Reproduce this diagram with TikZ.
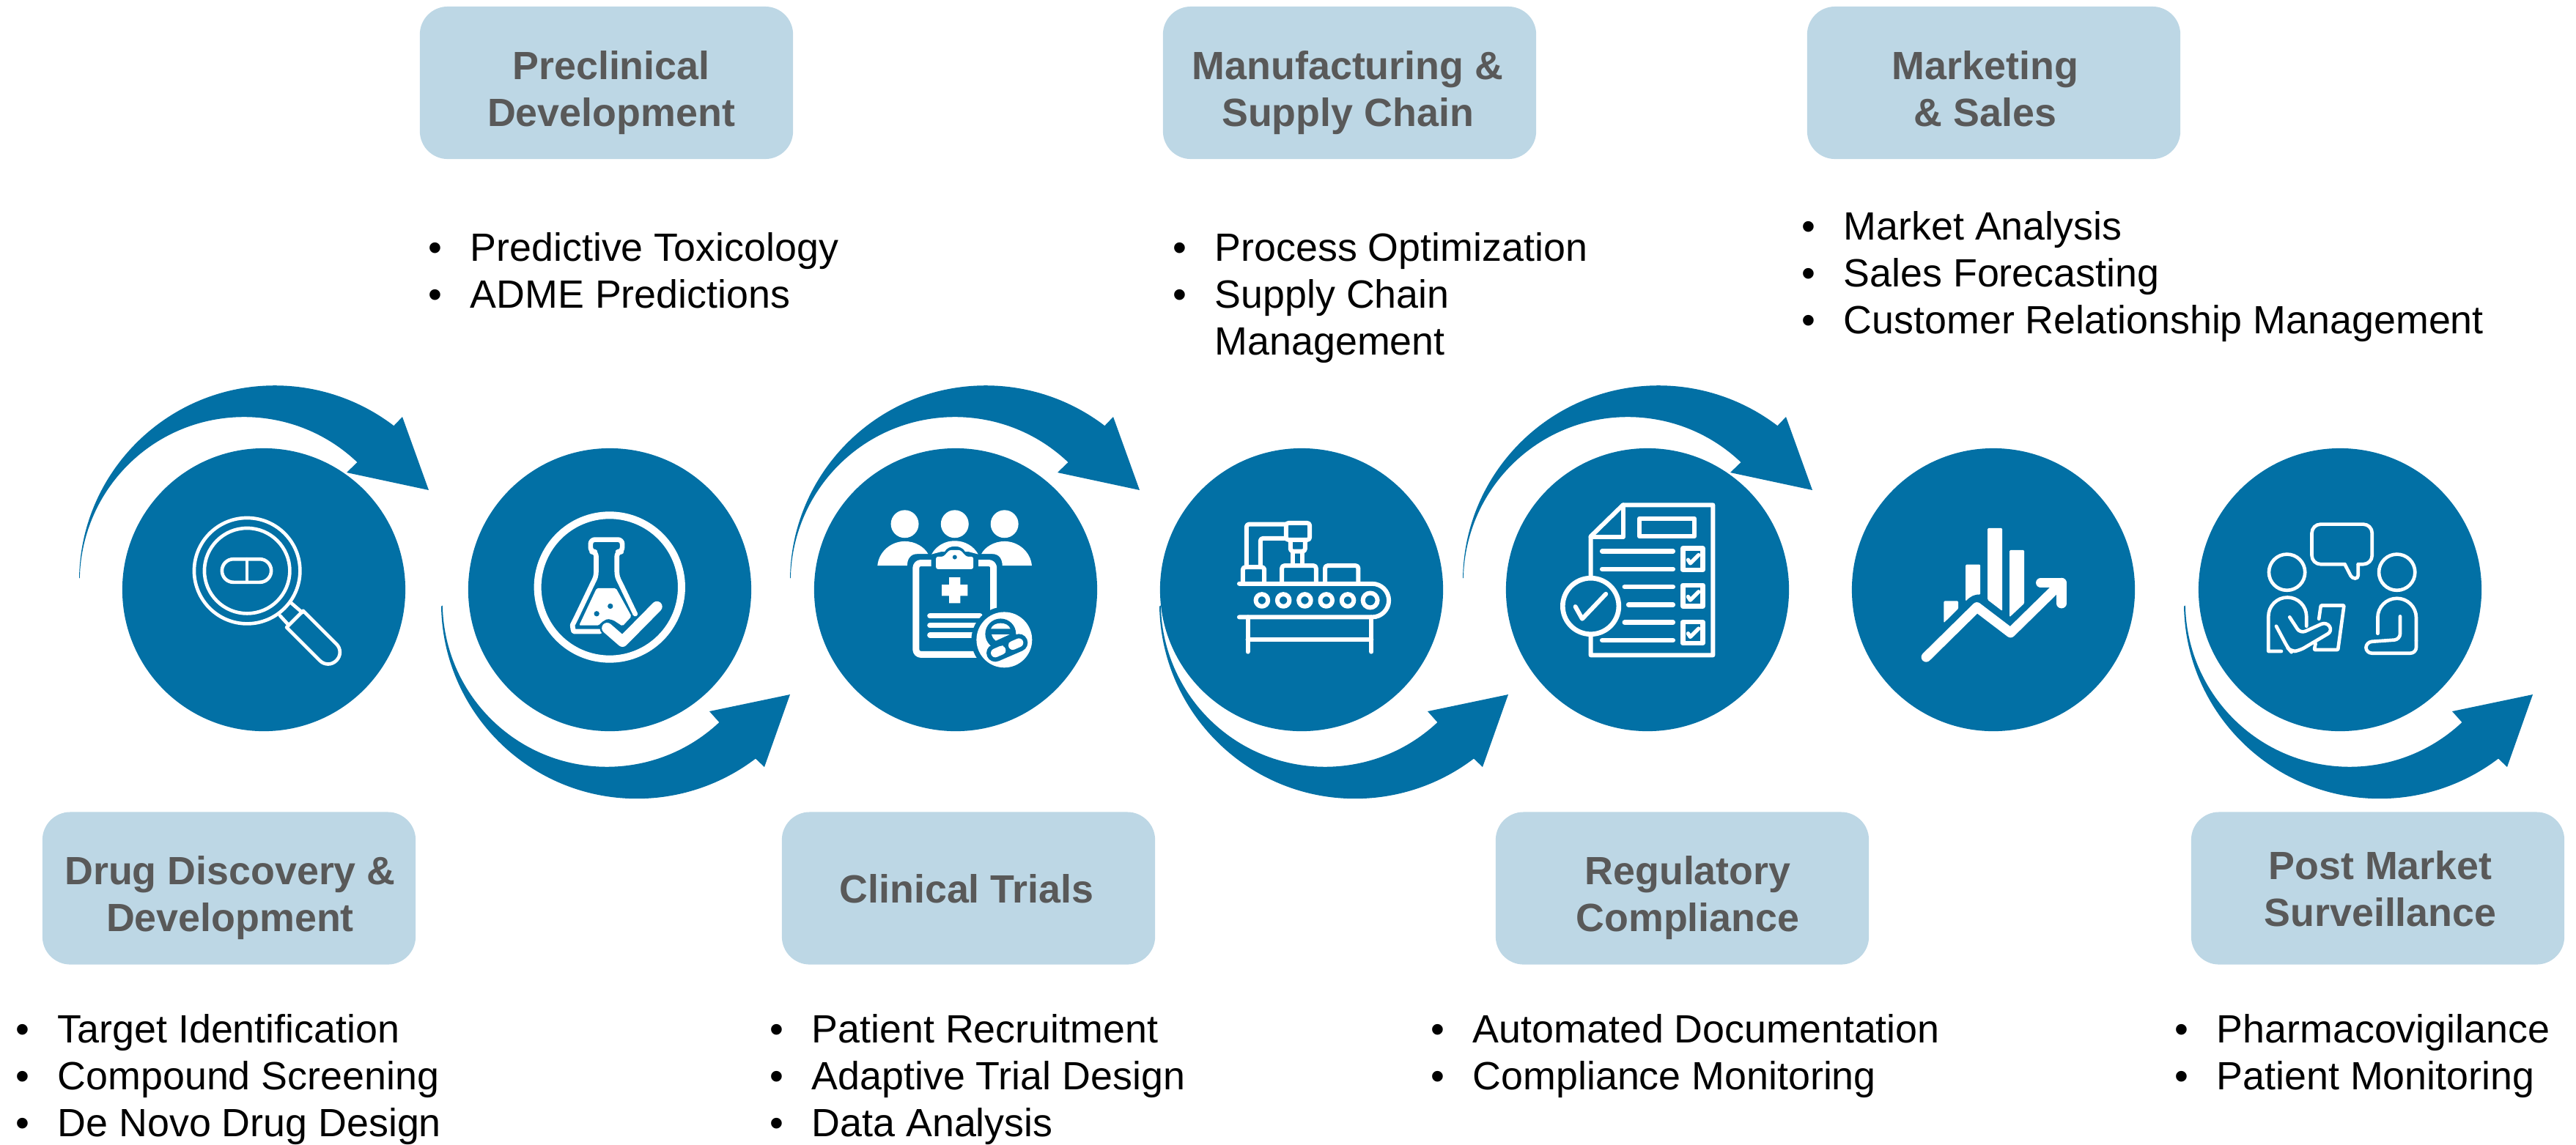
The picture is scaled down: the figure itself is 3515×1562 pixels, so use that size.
\documentclass[tikz,border=0pt]{standalone}
\usepackage{fontspec}
\setmainfont{Liberation Sans}
\usetikzlibrary{calc}
\definecolor{stageblue}{HTML}{0270A5}
\definecolor{boxblue}{HTML}{BDD7E5}
\definecolor{headgray}{HTML}{595959}
% one icon unit is a third of a reference pixel
\def\zu{0.003333cm}
\newcommand{\upsweep}[1]{\fill[sweep,shift={(#1,0)}] (108,788.7) arc[start angle=179,end angle=52.6,radius=2.67cm] -- (549,569) -- (585,669) -- (473,645) -- (487.5,631) arc[start angle=46.4,end angle=179,radius=2.24cm] -- cycle;}
\newcommand{\downsweep}[1]{\fill[sweep,shift={(#1,0)}] (602,827.7) arc[start angle=181,end angle=307.3,radius=2.67cm] -- (1043,1047) -- (1078,948) -- (968,971) -- (981.4,986) arc[start angle=313.2,end angle=181,radius=2.24cm] -- cycle;}
\newcommand{\stageitem}[4]{\node[itemtext] (#1) at (#2,#3) {#4};
    \node[itemtext,anchor=base east] (#1mark) at ($(#1.base west)+(-37,0)$) {•};}
\begin{document}
\begin{tikzpicture}[x=0.01cm,y=-0.01cm,
    sweep/.style={fill=stageblue},
    stage/.style={circle,fill=stageblue,minimum size=3.86cm,inner sep=0},
    headbox/.style={rectangle,fill=boxblue,rounded corners=0.38cm,minimum width=5.09cm,minimum height=2.08cm},
    headtext/.style={inner sep=0,align=center,text=headgray,font=\fontsize{15.3}{18.2}\selectfont\bfseries},
    itemtext/.style={anchor=base west,inner sep=0,text=black,font=\fontsize{15.3}{18.2}\selectfont},
    icon/.style={x=\zu,y=-\zu},
    iconline/.style={draw=white,line width=14*\zu,line cap=round,line join=round},
    iconfill/.style={fill=white},
    iconcut/.style={fill=stageblue}
    ]
    \useasboundingbox (0,0) rectangle (3515,1562);

    % sweeping arrows
    \upsweep{0}
    \upsweep{970}
    \upsweep{1888}
    \downsweep{0}
    \downsweep{980}
    \downsweep{2378}

    % stage circles
    \node[stage] (discovery) at (360,805) {};
    \node[stage] (preclinical) at (832,805) {};
    \node[stage] (trials) at (1304,805) {};
    \node[stage] (supply) at (1776,805) {};
    \node[stage] (regulatory) at (2248,805) {};
    \node[stage] (marketing) at (2720,805) {};
    \node[stage] (surveillance) at (3193,805) {};

    % heading boxes
    \node[headbox] (preclinicalbox) at (827.5,113) {};
    \node[headbox] (supplybox) at (1841.5,113) {};
    \node[headbox] (marketingbox) at (2720.5,113) {};
    \node[headbox] (discoverybox) at (312.5,1212.5) {};
    \node[headbox] (trialsbox) at (1321.5,1212.5) {};
    \node[headbox] (regulatorybox) at (2295.5,1212.5) {};
    \node[headbox] (surveillancebox) at (3244.5,1212.5) {};
    \node[headtext] (preclinicaltext) at (834,128) {\strut Preclinical\\\strut Development};
    \node[headtext] (supplytext) at (1839,128) {\strut Manufacturing \&\\\strut Supply Chain};
    \node[headtext] (marketingtext) at (2709,128) {\strut Marketing\\\strut \& Sales};
    \node[headtext] (discoverytext) at (314,1226.5) {\strut Drug Discovery \&\\\strut Development};
    \node[headtext] (trialstext) at (1319,1219.5) {\strut Clinical Trials};
    \node[headtext] (regulatorytext) at (2303,1226.5) {\strut Regulatory\\\strut Compliance};
    \node[headtext] (surveillancetext) at (3248,1219.5) {\strut Post Market\\\strut Surveillance};

    % bullet lists
    \stageitem{toxicology}{641}{356}{Predictive Toxicology}
    \stageitem{adme}{641}{420}{ADME Predictions}
    \stageitem{process}{1657}{356}{Process Optimization}
    \stageitem{chain}{1657}{420}{Supply Chain}
    \node[itemtext] (chainb) at (1657,484) {Management};
    \stageitem{analysis}{2515}{327}{Market Analysis}
    \stageitem{forecast}{2515}{391}{Sales Forecasting}
    \stageitem{customer}{2515}{455}{Customer Relationship Management}
    \stageitem{target}{78}{1423}{Target Identification}
    \stageitem{screening}{78}{1487}{Compound Screening}
    \stageitem{denovo}{78}{1551}{De Novo Drug Design}
    \stageitem{recruit}{1107}{1423}{Patient Recruitment}
    \stageitem{adaptive}{1107}{1487}{Adaptive Trial Design}
    \stageitem{data}{1107}{1551}{Data Analysis}
    \stageitem{automated}{2009}{1423}{Automated Documentation}
    \stageitem{compliance}{2009}{1487}{Compliance Monitoring}
    \stageitem{vigilance}{3024}{1423}{Pharmacovigilance}
    \stageitem{monitoring}{3024}{1487}{Patient Monitoring}

    % magnifier icon
    \begin{scope}[shift={(230,675)},icon]
        \draw[iconline] (322,313) circle[radius=217*\zu];
        \draw[iconline] (322,313) circle[radius=175*\zu];
        \draw[iconline,rounded corners=47*\zu] (219,265) rectangle (421,360);
        \draw[iconline] (321,265) -- (321,360);
        \draw[iconline] (503,445) -- (548,484) (457,497) -- (490,533);
        \draw[iconline] (484,545) -- (552,477) [rounded corners=47*\zu] -- (722,647) -- (654,715) [sharp corners] -- cycle;
    \end{scope}

    % flask icon
    \begin{scope}[shift={(702,675)},icon]
        \draw[iconline,line width=30*\zu] (390,380) circle[radius=295*\zu];
        \draw[iconline,line width=20*\zu,rounded corners=18*\zu] (350,562) -- (262,562) .. controls (240,562) and (238,535) .. (246,520) -- (320,365) .. controls (335,335) and (335,320) .. (335,290) -- (335,235) -- (312,235) -- (312,185) -- (442,185) -- (442,235) -- (420,235) -- (420,290) .. controls (420,320) and (420,335) .. (435,365) -- (495,490);
        \fill[iconfill,rounded corners=6*\zu] (337,384) -- (416,384) -- (480,500) -- (443,540) -- (405,515) -- (380,510) -- (355,525) -- (347,537) -- (265,537) -- cycle;
        \fill[iconcut] (337,489) circle[radius=11*\zu] (393,458) circle[radius=11*\zu];
        \draw[draw=stageblue,line width=60*\zu,line cap=round,line join=round] (380,548) -- (443,603) -- (584,460);
        \draw[iconline,line width=44*\zu] (380,548) -- (443,603) -- (584,460);
    \end{scope}

    % clipboard icon
    \begin{scope}[shift={(1174,675)},icon]
        \fill[iconfill] (182,121) circle[radius=57*\zu] (387,121) circle[radius=57*\zu] (591,121) circle[radius=57*\zu];
        \fill[iconfill] (70,292) .. controls (75,235) and (125,192) .. (182,192) .. controls (225,192) and (262,215) .. (278,244) -- (232,244) .. controls (205,244) and (192,265) .. (192,292) -- cycle;
        \fill[iconfill] (703,292) .. controls (698,235) and (648,192) .. (591,192) .. controls (548,192) and (511,215) .. (496,244) -- (542,244) .. controls (569,244) and (582,265) .. (582,292) -- cycle;
        \fill[iconfill] (292,245) .. controls (310,212) and (345,190) .. (387,190) .. controls (429,190) and (465,212) .. (483,245) -- (445,235) -- (430,235) .. controls (415,205) and (360,205) .. (345,235) -- (330,235) -- cycle;
        \draw[iconline,line width=27*\zu,line cap=butt,rounded corners=20*\zu] (290,281) -- (228,281) -- (228,656) -- (480,656);
        \draw[iconline,line width=27*\zu,line cap=butt,rounded corners=20*\zu] (484,281) -- (546,281) -- (546,480);
        \fill[iconfill,rounded corners=8*\zu] (310,255) -- (340,255) -- (365,228) -- (410,228) -- (435,255) -- (463,255) -- (463,306) -- (310,306) -- cycle;
        \fill[iconcut] (387,257) circle[radius=9*\zu];
        \fill[iconfill] (364,340) -- (410,340) -- (410,370) -- (440,370) -- (440,416) -- (410,416) -- (410,446) -- (364,446) -- (364,416) -- (334,416) -- (334,370) -- (364,370) -- cycle;
        \draw[iconline,line width=22*\zu] (285,498) -- (490,498) (285,537) -- (480,537) (285,577) -- (470,577);
        % pills
        \fill[iconcut] (590,596) circle[radius=135*\zu];
        \fill[iconfill] (590,596) circle[radius=114*\zu];
        \fill[iconcut] (575,572) circle[radius=63*\zu];
        \fill[iconfill] (535,551) .. controls (545,520) and (605,520) .. (615,551) -- cycle;
        \fill[iconfill] (538,574) -- (612,574) -- (555,600) .. controls (547,594) and (541,585) .. (538,574) -- cycle;
        \draw[draw=stageblue,line width=72*\zu,line cap=round] (553,650) -- (650,608);
        \draw[iconline,line width=36*\zu,line cap=round] (553,650) -- (578,639) (625,619) -- (650,608);
        \draw[draw=white,line width=30*\zu] (564,644) -- (590,633) (614,623) -- (636,614);
    \end{scope}

    % conveyor icon
    \begin{scope}[shift={(1646,675)},icon]
        \draw[iconline,line width=18*\zu] (135,366) -- (680,366) arc[start angle=90,end angle=-90,radius=68.5*\zu] -- (135,503);
        \draw[iconline,line width=18*\zu] (228,434) circle[radius=25*\zu] (316,434) circle[radius=25*\zu] (404,434) circle[radius=25*\zu] (492,434) circle[radius=25*\zu] (580,434) circle[radius=25*\zu] (672,434) circle[radius=30*\zu];
        \draw[iconline,line width=18*\zu] (170,503) -- (170,645) (677,503) -- (677,645) (170,595) -- (677,595);
        \draw[iconline,line width=18*\zu,rounded corners=10*\zu] (150,366) -- (150,298) -- (238,298) -- (238,366);
        \draw[iconline,line width=18*\zu,rounded corners=10*\zu] (310,366) -- (310,292) -- (450,292) -- (450,366);
        \draw[iconline,line width=18*\zu,rounded corners=10*\zu] (487,366) -- (487,292) -- (623,292) -- (623,366);
        \draw[iconline,line width=18*\zu,rounded corners=10*\zu] (165,298) -- (165,122) -- (327,122);
        \draw[iconline,line width=18*\zu,rounded corners=10*\zu] (222,298) -- (222,180) -- (327,180);
        \draw[iconline,line width=18*\zu,rounded corners=10*\zu] (327,117) rectangle (424,186);
        \draw[iconline,line width=18*\zu,rounded corners=10*\zu] (345,186) -- (345,233) -- (405,233) -- (405,186);
        \draw[iconline,line width=18*\zu] (355,233) -- (355,290) (395,233) -- (395,290);
    \end{scope}

    % document icon
    \begin{scope}[shift={(2118,675)},icon]
        \draw[iconline,line width=18*\zu] (158,172) -- (290,43) -- (659,43) -- (659,659) -- (158,659) -- cycle;
        \draw[iconline,line width=18*\zu] (290,43) -- (290,175) -- (158,175);
        \draw[iconline,line width=18*\zu] (358,98) rectangle (583,172);
        \draw[iconline,line width=20*\zu] (205,233) -- (495,233) (205,306) -- (495,306) (297,379) -- (495,379) (313,452) -- (495,452) (297,525) -- (495,525) (205,598) -- (495,598);
        \draw[iconline,line width=20*\zu] (536,221) rectangle (617,309) (536,372) rectangle (617,459) (536,523) rectangle (617,610);
        \draw[iconline,line width=16*\zu] (557,268) -- (566,282) -- (600,248) (557,419) -- (566,433) -- (600,399) (557,570) -- (566,584) -- (600,550);
        \draw[iconline,line width=20*\zu,fill=stageblue] (158,458) circle[radius=115*\zu];
        \draw[iconline,line width=18*\zu] (95,460) -- (123,510) -- (220,408);
    \end{scope}

    % chart icon
    \begin{scope}[shift={(2590,675)},icon]
        \fill[iconfill,rounded corners=4*\zu] (367,138) -- (427,138) -- (427,478) -- (367,432) -- cycle;
        \fill[iconfill,rounded corners=4*\zu] (457,228) -- (517,228) -- (517,447) -- (457,503) -- cycle;
        \fill[iconfill,rounded corners=4*\zu] (277,287) -- (337,287) -- (337,411) .. controls (315,408) and (295,418) .. (277,438) -- cycle;
        \fill[iconfill,rounded corners=4*\zu] (187,437) -- (247,437) -- (247,468) -- (187,527) -- cycle;
        \draw[iconline,line width=40*\zu] (115,667) -- (323,462) -- (461,567) -- (670,362);
        \draw[iconline,line width=40*\zu] (585,362) -- (670,362) -- (670,447);
    \end{scope}

    % conversation icon
    \begin{scope}[shift={(3063,675)},icon]
        \draw[iconline] (173,319) circle[radius=74*\zu];
        \draw[iconline] (624,319) circle[radius=74*\zu];
        \draw[iconline,rounded corners=36*\zu] (410,286) -- (275,286) -- (275,122) -- (522,122) -- (522,286) -- (465,286);
        \draw[iconline,rounded corners=12*\zu] (465,286) -- (465,344) -- (440,344) -- (410,286);
        \draw[iconline] (150,643) -- (97,643) -- (97,500) arc[start angle=180,end angle=0,radius=78*\zu] -- (253,540);
        \draw[iconline,rounded corners=22*\zu] (129,540) -- (177,630) -- (190,645) -- (225,640) -- (360,560) -- (335,522) -- (228,570) -- (184,503);
        \draw[iconline,rounded corners=3*\zu] (304,510) -- (312,455) -- (407,455) -- (382,637) -- (285,637) -- (290,612);
        \draw[iconline,rounded corners=24*\zu] (545,570) -- (545,505);
        \draw[iconline] (545,505) arc[start angle=180,end angle=0,radius=79*\zu] -- (703,600);
        \draw[iconline,rounded corners=24*\zu] (703,600) -- (703,651) -- (497,651) -- (497,605) -- (637,595) -- (637,500);
    \end{scope}
\end{tikzpicture}
\end{document}
